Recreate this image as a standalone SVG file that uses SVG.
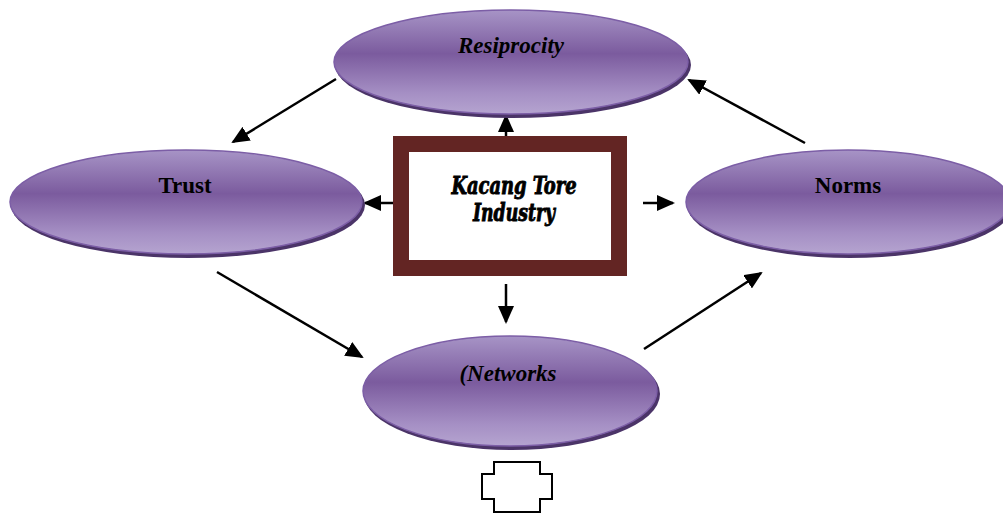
<svg xmlns="http://www.w3.org/2000/svg" width="1003" height="514" viewBox="0 0 1003 514">
<style>
.node-shadow{fill:#4b3468;}
.node-body{fill:url(#purp);stroke:#7c5ea6;stroke-width:1.5;}
.lbl{font-family:"Liberation Serif","Times New Roman",serif;font-weight:bold;font-size:23px;fill:#000;text-anchor:middle;}
.it{font-style:italic;}
.conn{stroke:#000;stroke-width:2.5;fill:none;marker-end:url(#ah);}
.core{font-family:"DejaVu Serif",serif;font-stretch:condensed;font-weight:bold;font-style:italic;font-size:25px;fill:#000;stroke:#000;stroke-width:0.9;text-anchor:middle;}
</style>
<defs>
<linearGradient id="purp" x1="0" y1="0" x2="0" y2="1">
<stop offset="0" stop-color="#a794c6"/>
<stop offset="0.42" stop-color="#7b5b9e"/>
<stop offset="0.8" stop-color="#a58fc4"/>
<stop offset="1" stop-color="#b5a4d0"/>
</linearGradient>
<marker id="ah" markerUnits="userSpaceOnUse" markerWidth="18" markerHeight="16" viewBox="0 0 18 16" refX="16" refY="8" orient="auto">
<path d="M0,0 L18,8 L0,16 Z" fill="#000"/>
</marker>
</defs>
<g id="connectors">
<line class="conn" x1="506" y1="136" x2="506" y2="116"/>
<line class="conn" x1="393" y1="203" x2="365" y2="203"/>
<line class="conn" x1="643" y1="203" x2="673" y2="203"/>
<line class="conn" x1="506" y1="284" x2="506" y2="322"/>
<line class="conn" x1="336" y1="79" x2="233" y2="142"/>
<line class="conn" x1="805" y1="143" x2="689" y2="80"/>
<line class="conn" x1="217" y1="272" x2="362" y2="357"/>
<line class="conn" x1="644" y1="349" x2="761" y2="273"/>
</g>
<g id="resiprocity">
<ellipse class="node-shadow" cx="513" cy="65" rx="178" ry="53"/>
<ellipse class="node-body" cx="511" cy="62" rx="177" ry="52"/>
<text class="lbl it" x="511" y="53">Resiprocity</text>
</g>
<g id="trust">
<ellipse class="node-shadow" cx="188" cy="205" rx="177" ry="53"/>
<ellipse class="node-body" cx="186" cy="202" rx="176" ry="52"/>
<text class="lbl" x="185" y="193">Trust</text>
</g>
<g id="norms">
<ellipse class="node-shadow" cx="850" cy="205" rx="163" ry="53"/>
<ellipse class="node-body" cx="848" cy="202" rx="162" ry="52"/>
<text class="lbl" x="848" y="193">Norms</text>
</g>
<g id="networks">
<ellipse class="node-shadow" cx="512" cy="394" rx="148" ry="56"/>
<ellipse class="node-body" cx="510" cy="391" rx="147" ry="55"/>
<text class="lbl it" x="508" y="381">(Networks</text>
</g>
<g id="kacang-tore-industry">
<rect x="401" y="144" width="218" height="124" fill="#fff" stroke="#632523" stroke-width="16"/>
<text class="core" x="514" y="194" textLength="125" lengthAdjust="spacingAndGlyphs">Kacang Tore</text>
<text class="core" x="514" y="221" textLength="82" lengthAdjust="spacingAndGlyphs">Industry</text>
</g>
<g id="bottom-shape">
<path d="M494,462 H540 V474 H552 V499 H540 V512 H494 V499 H482 V474 H494 Z" fill="#fff" stroke="#000" stroke-width="2"/>
</g>
</svg>
